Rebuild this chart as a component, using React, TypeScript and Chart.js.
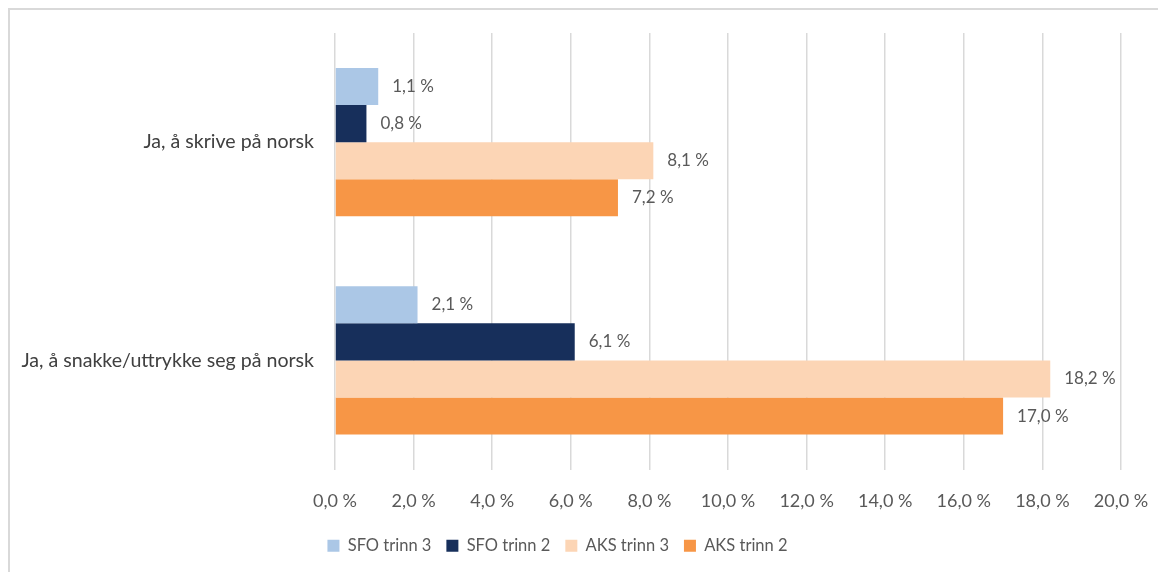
import React, { useEffect, useRef } from "react";
import { Chart, registerables } from "chart.js";

Chart.register(...registerables);

const categories = ["Ja, å skrive på norsk", "Ja, å snakke/uttrykke seg på norsk"];
const seriesNames = ["SFO trinn 3", "SFO trinn 2", "AKS trinn 3", "AKS trinn 2"];
const sfoTrinn3 = [1.1, 2.1];
const sfoTrinn2 = [0.8, 6.1];
const aksTrinn3 = [8.1, 18.2];
const aksTrinn2 = [7.2, 17.0];
const seriesColors = ["#abc7e6", "#172f5b", "#fcd5b5", "#f79646"];
const xMin = 0;
const xMax = 20;
const xStep = 2;

const FONT = "Lato, 'Open Sans', sans-serif";
const fmt = (v: number) => v.toFixed(1).replace(".", ",") + " %";

const valueLabels = {
  id: "valueLabels",
  afterDatasetsDraw(chart: any) {
    const ctx = chart.ctx;
    ctx.save();
    ctx.font = `17px ${FONT}`;
    ctx.fillStyle = "#595959";
    ctx.textBaseline = "middle";
    ctx.textAlign = "left";
    chart.data.datasets.forEach((ds: any, i: number) => {
      const meta = chart.getDatasetMeta(i);
      meta.data.forEach((el: any, j: number) => {
        ctx.fillText(fmt(ds.data[j]), el.x + 14, el.y);
      });
    });
    ctx.restore();
  },
};

const legendShift = {
  id: "legendShift",
  afterLayout(chart: any) {
    if (chart.legend) {
      chart.legend.left -= 8;
      chart.legend.right -= 8;
    }
  },
};

export default function App() {
  const ref = useRef<HTMLCanvasElement | null>(null);
  useEffect(() => {
    if (!ref.current) return;
    const all = [sfoTrinn3, sfoTrinn2, aksTrinn3, aksTrinn2];
    const chart = new Chart(ref.current, {
      type: "bar",
      data: {
        labels: categories,
        datasets: all.map((d, i) => ({
          label: seriesNames[i],
          data: d,
          backgroundColor: seriesColors[i],
          borderWidth: 0,
          categoryPercentage: 0.68,
          barPercentage: 1,
        })),
      },
      options: {
        indexAxis: "y",
        animation: false,
        responsive: false,
        maintainAspectRatio: false,
        layout: { padding: { left: 0, top: 23, right: 45, bottom: 8 } },
        plugins: {
          legend: {
            position: "bottom",
            labels: {
              boxWidth: 12,
              boxHeight: 12,
              padding: 15,
              color: "#595959",
              font: { family: FONT, size: 16.5 },
            },
          },
          tooltip: { enabled: false },
        },
        scales: {
          x: {
            min: xMin,
            max: xMax,
            ticks: {
              stepSize: xStep,
              color: "#595959",
              font: { family: FONT, size: 18 },
              padding: 21,
              callback: (v: any) => fmt(Number(v)),
            },
            grid: { color: "#d9d9d9", lineWidth: 1.5, drawTicks: false },
            border: { display: false },
            afterFit: (s: any) => {
              s.height = 53;
              s.paddingLeft = 0;
              s.paddingRight = 0;
            },
          },
          y: {
            ticks: {
              color: "#404040",
              font: { family: FONT, size: 19.6 },
              padding: 21,
            },
            grid: { display: false, drawTicks: false },
            border: { display: false },
            afterFit: (s: any) => {
              s.width = 325;
              s.paddingTop = 0;
              s.paddingBottom = 0;
            },
          },
        },
      },
      plugins: [valueLabels, legendShift],
    });
    return () => chart.destroy();
  }, []);
  return (
    <div
      style={{
        width: 1156,
        height: 564,
        borderTop: "2px solid #d9d9d9",
        borderLeft: "2px solid #d9d9d9",
        background: "#fff",
      }}
    >
      <canvas ref={ref} width={1156} height={562} style={{ display: "block" }} />
    </div>
  );
}
